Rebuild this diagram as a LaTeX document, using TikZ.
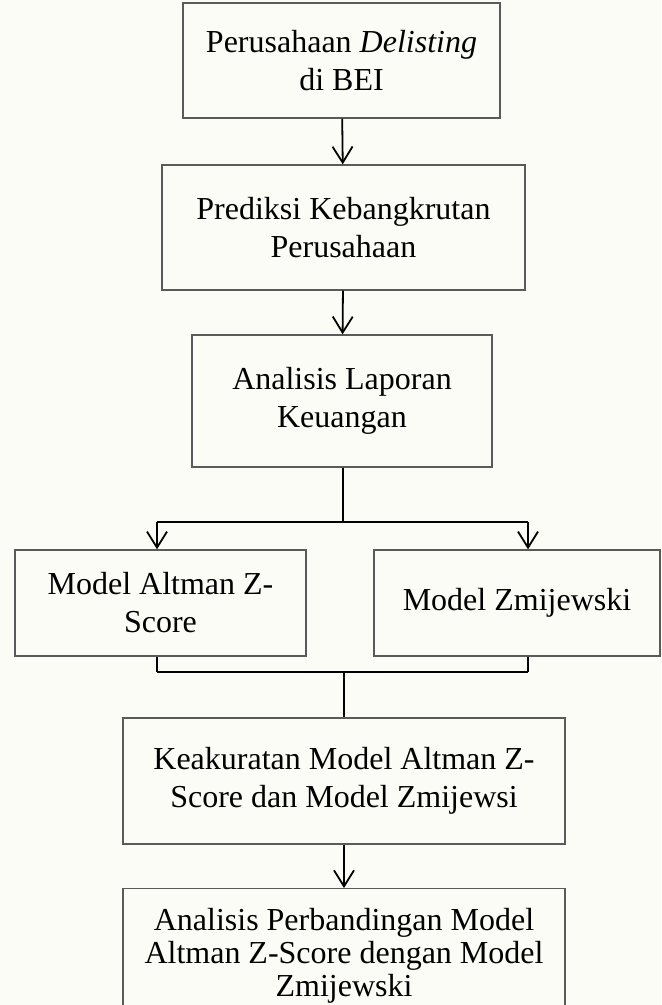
\documentclass[tikz,border=0pt]{standalone}
\usepackage{fontspec}
\setmainfont{Liberation Serif}
\usepackage{tikz}
\usepackage{xcolor}
\usetikzlibrary{
    arrows.meta,
    calc,
    positioning
}
\definecolor{paper}{HTML}{FCFCF7}
\definecolor{rim}{HTML}{5A5A5A}

\begin{document}
\begin{tikzpicture}[x=0.5pt, y=-0.5pt,
                    box/.style={draw=rim, line width=0.7pt, fill=paper, align=center, inner sep=0pt,
                                font=\fontsize{16}{19}\selectfont},
                    link/.style={line width=0.9pt, black},
                    >={Straight Barb[length=8pt, width=10pt]}]
                    \fill[paper] (0, 0) rectangle (661, 1005);
                    \useasboundingbox (0, 0) rectangle (661, 1005);
                    \clip (0, 0) rectangle (661, 1005);

                    \node[box, minimum width=158.5pt, minimum height=57.5pt] (delist) at (341.5, 60.5) {Perusahaan \textit{Delisting}\\di BEI};
                    \node[box, minimum width=181.5pt, minimum height=62.5pt] (prediksi) at (343.5, 227.5) {Prediksi Kebangkrutan\\Perusahaan};
                    \node[box, minimum width=150pt, minimum height=66pt] (laporan) at (342, 401) {Analisis Laporan\\Keuangan};
                    \node[box, minimum width=145.5pt, minimum height=53pt] (altman) at (160.5, 603) {Model Altman Z-\\Score};
                    \node[box, minimum width=143pt, minimum height=53pt] (zmij) at (517, 603) {Model Zmijewski};
                    \node[box, minimum width=221pt, minimum height=63pt] (akurat) at (344, 781) {Keakuratan Model Altman Z-\\Score dan Model Zmijewsi};
                    \node[box, minimum width=221pt, minimum height=67pt, anchor=north,
                          font=\fontsize{16}{16.5}\selectfont] (banding) at (344, 888)
                          {Analisis Perbandingan Model\\Altman Z-Score dengan Model\\Zmijewski};

                    \coordinate (fork) at (343, 522);
                    \coordinate (forkL) at (157, 522);
                    \coordinate (forkR) at (528, 522);
                    \coordinate (join) at (344, 672);
                    \coordinate (joinL) at (157, 672);
                    \coordinate (joinR) at (528, 672);

                    \draw[link]
                    (delist) edge[->] (prediksi)
                    (prediksi) edge[->] (laporan)
                    (laporan.south -| fork) edge (fork)
                    (forkL) edge (forkR)
                    (forkL) edge[->] (forkL |- altman.north)
                    (forkR) edge[->] (forkR |- zmij.north)
                    % (altman) edge (akurat)
                    (joinL |- altman.south) edge (joinL)
                    (joinR |- zmij.south) edge (joinR)
                    (joinL) edge (joinR)
                    (join) edge (akurat.north -| join)
                    (akurat) edge[->] (banding);
                \end{tikzpicture}
\end{document}
